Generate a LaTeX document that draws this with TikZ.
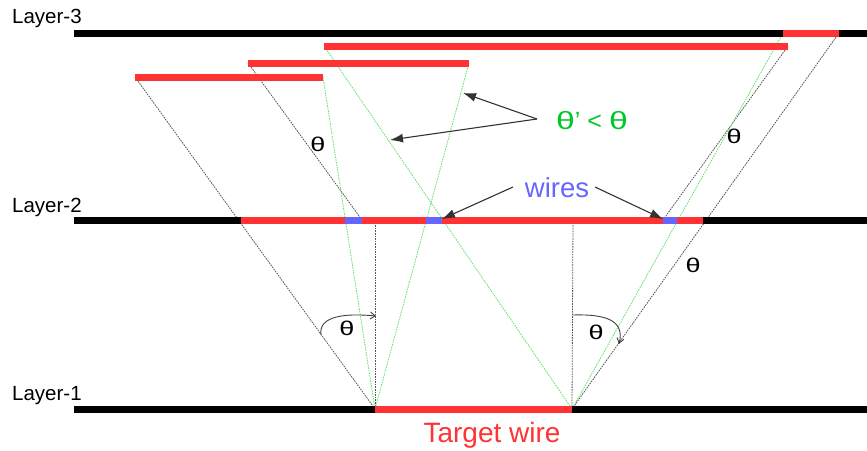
\documentclass[tikz,border=0pt]{standalone}
\usepackage{fontspec}
\setmainfont{Liberation Sans}
\usetikzlibrary{arrows.meta}
\definecolor{wirered}{RGB}{255,51,51}
\definecolor{wireblue}{RGB}{102,102,255}
\definecolor{txtgreen}{RGB}{0,200,40}
\definecolor{lgreen}{RGB}{100,225,110}
\definecolor{dgray}{RGB}{85,85,85}
\newcommand{\wth}{\scalebox{1.35}[1]{θ}}
\tikzset{
  layerbar/.style={line width=7pt, line cap=butt, black},
  redbar/.style={line width=7pt, line cap=butt, wirered},
  bluebar/.style={line width=7pt, line cap=butt, wireblue},
  grayray/.style={dgray, line width=0.8pt, dash pattern=on 1.6pt off 1pt},
  greenray/.style={lgreen, line width=0.8pt, dash pattern=on 1.6pt off 1pt},
  pointer/.style={black!80, line width=1.1pt, -{Latex[length=13pt,width=9pt]}},
  anglearc/.style={black!75, line width=0.9pt, -{Straight Barb[length=5pt,width=7pt]}},
  layerlabel/.style={anchor=base west, inner sep=0pt, font=\fontsize{20.5}{24}\selectfont},
  thlabel/.style={inner sep=0pt, font=\fontsize{20}{24}\selectfont},
}
\begin{document}
\begin{tikzpicture}[x=1pt,y=-1pt]
\useasboundingbox (0,0) rectangle (867,450);
% key points
\coordinate (L3a) at (74,33);   \coordinate (L3b) at (867,33);
\coordinate (L2a) at (74,220);  \coordinate (L2b) at (867,220);
\coordinate (L1a) at (74,409);  \coordinate (L1b) at (867,409);
\coordinate (T3a) at (783,33);  \coordinate (T3b) at (839,33);
\coordinate (Aa) at (135,77);   \coordinate (Ab) at (323,77);
\coordinate (Ba) at (248,63);   \coordinate (Bb) at (469,63);
\coordinate (Ca) at (324,46);   \coordinate (Cb) at (788,46);
\coordinate (R2a) at (241,220); \coordinate (R2b) at (703,220);
\coordinate (W1a) at (345,220); \coordinate (W1b) at (362,220);
\coordinate (W2a) at (426,220); \coordinate (W2b) at (442,220);
\coordinate (W3a) at (663,220); \coordinate (W3b) at (677,220);
\coordinate (Ta) at (375,409);  \coordinate (Tb) at (572,409);
\coordinate (Va) at (375,220);  \coordinate (Vb) at (573,220);
% rays
\draw[grayray] (Aa) -- (Ta);
\draw[grayray] (Ba) -- (W1b);
\draw[grayray] (Cb) -- (W3a);
\draw[grayray] (T3b) -- (Tb);
\draw[grayray] (Va) -- (Ta);
\draw[grayray] (Vb) -- (Tb);
\draw[greenray] (Ab) -- (Ta);
\draw[greenray] (Bb) -- (Ta);
\draw[greenray] (Ca) -- (Tb);
\draw[greenray] (T3a) -- (Tb);
% bars
\draw[layerbar] (L3a) -- (L3b);
\draw[redbar] (T3a) -- (T3b);
\draw[redbar] (Ca) -- (Cb);
\draw[redbar] (Ba) -- (Bb);
\draw[redbar] (Aa) -- (Ab);
\draw[layerbar] (L2a) -- (L2b);
\draw[redbar] (R2a) -- (R2b);
\draw[bluebar] (W1a) -- (W1b);
\draw[bluebar] (W2a) -- (W2b);
\draw[bluebar] (W3a) -- (W3b);
\draw[layerbar] (L1a) -- (L1b);
\draw[redbar] (Ta) -- (Tb);
% labels
\node[layerlabel] (lab3) at (12,23) {Layer-3};
\node[layerlabel] (lab2) at (12,212) {Layer-2};
\node[layerlabel] (lab1) at (12,400) {Layer-1};
\node[anchor=base, inner sep=0pt, text=wirered, font=\fontsize{28}{32}\selectfont] (target) at (492,442) {Target wire};
\node[anchor=base, inner sep=0pt, text=wireblue, font=\fontsize{27.5}{30}\selectfont] (wires) at (557,197) {wires};
\node[anchor=base, inner sep=0pt, text=txtgreen, font=\fontsize{25}{30}\selectfont] (thp) at (592,129) {\wth’ < \wth};
\node[thlabel] (th1) at (318,144) {\wth};
\node[thlabel] (th2) at (734,136) {\wth};
\node[thlabel] (th3) at (693,265) {\wth};
\node[thlabel] (th4) at (347,328) {\wth};
\node[thlabel] (th5) at (596,332) {\wth};
% pointers
\coordinate (pS) at (537,119);
\coordinate (pT1) at (463,93);
\coordinate (pT2) at (390,140);
\draw[pointer] (pS) -- (pT1);
\draw[pointer] (pS) -- (pT2);
\coordinate (wS1) at (513,187);
\coordinate (wS2) at (595,187);
\coordinate (wT1) at (442,219);
\coordinate (wT2) at (663,219);
\draw[pointer] (wS1) -- (wT1);
\draw[pointer] (wS2) -- (wT2);
% angle arcs
\coordinate (a1s) at (321,335);
\coordinate (a1e) at (376,316);
\draw[anglearc] (a1s) .. controls (318,316) and (345,313) .. (a1e);
\coordinate (a2s) at (573,315);
\coordinate (a2e) at (619,344);
\draw[anglearc] (a2s) .. controls (605,314) and (625,320) .. (a2e);
\end{tikzpicture}
\end{document}
